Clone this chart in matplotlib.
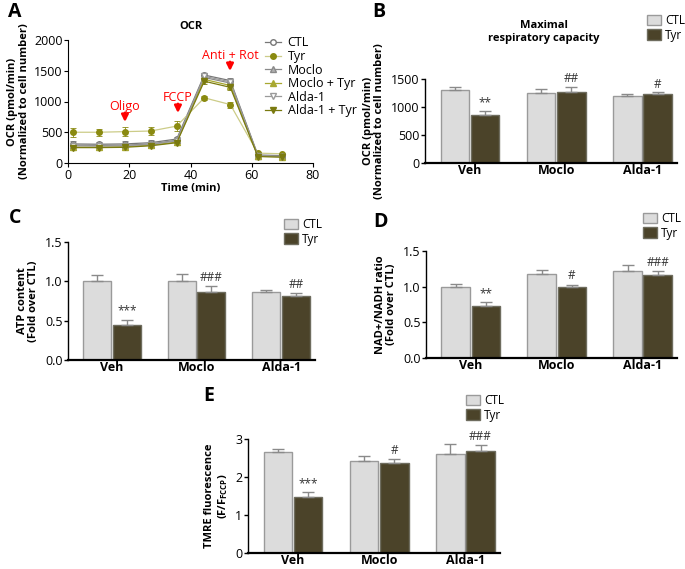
import matplotlib
matplotlib.use('Agg')
import matplotlib.pyplot as plt
import numpy as np
from matplotlib.patches import Patch
from matplotlib.lines import Line2D

plt.rcParams['font.family'] = ['Open Sans', 'DejaVu Sans']
plt.rcParams['mathtext.default'] = 'regular'

# ---- Panel A data (OCR time course) ----
time_min = [1.5, 10, 18.5, 27, 35.5, 44.5, 53, 62, 70]
ocr_ctl = [310, 305, 310, 330, 390, 1430, 1340, 130, 120]
ocr_tyr = [500, 500, 510, 520, 600, 1060, 950, 160, 150]
ocr_moclo = [290, 285, 290, 310, 370, 1390, 1300, 120, 110]
ocr_moclo_tyr = [260, 260, 265, 290, 340, 1360, 1260, 110, 100]
ocr_alda = [280, 275, 280, 300, 360, 1410, 1320, 115, 105]
ocr_alda_tyr = [250, 250, 255, 280, 330, 1330, 1230, 105, 95]
ocr_err_ctl = [40, 40, 40, 40, 40, 40, 40, 20, 20]
ocr_err_tyr = [70, 60, 70, 70, 80, 30, 50, 20, 20]

# ---- Bar panels ----
groups = ['Veh', 'Moclo', 'Alda-1']
maxresp_ctl = [1300, 1250, 1200]
maxresp_ctl_err = [65, 75, 35]
maxresp_tyr = [860, 1270, 1225]
maxresp_tyr_err = [75, 95, 35]
maxresp_sig = ['**', '##', '#']

atp_ctl = [1.01, 1.01, 0.86]
atp_ctl_err = [0.07, 0.08, 0.03]
atp_tyr = [0.45, 0.87, 0.81]
atp_tyr_err = [0.06, 0.07, 0.04]
atp_sig = ['***', '###', '##']

nad_ctl = [1.00, 1.18, 1.22]
nad_ctl_err = [0.04, 0.05, 0.09]
nad_tyr = [0.73, 1.00, 1.16]
nad_tyr_err = [0.05, 0.03, 0.06]
nad_sig = ['**', '#', '###']

tmre_ctl = [2.65, 2.42, 2.60]
tmre_ctl_err = [0.08, 0.12, 0.27]
tmre_tyr = [1.47, 2.37, 2.68]
tmre_tyr_err = [0.13, 0.10, 0.15]
tmre_sig = ['***', '#', '###']

CTL_COLOR = '#dcdcdc'
TYR_COLOR = '#4b4329'
OLIVE = '#8a8a10'

fig = plt.figure(figsize=(6.85, 5.69), dpi=100)
W, H = 685, 569


def axes_px(left, right, top, bottom):
    return fig.add_axes([left / W, 1 - bottom / H, (right - left) / W, (bottom - top) / H])


def bar_panel(ax, ctl, ctl_err, tyr, tyr_err, sig, ymax, step, ylabel, fmt):
    x = np.arange(len(groups))
    w = 0.33
    off = 0.175
    ax.bar(x - off, ctl, w, color=CTL_COLOR, edgecolor='#9a9a9a', linewidth=1)
    ax.bar(x + off, tyr, w, color=TYR_COLOR, edgecolor='#6e6c5e', linewidth=1)
    ax.errorbar(x - off, ctl, yerr=[np.zeros(3), ctl_err], fmt='none', ecolor='#8a8a8a',
                elinewidth=1, capsize=4, capthick=1)
    ax.errorbar(x + off, tyr, yerr=[np.zeros(3), tyr_err], fmt='none', ecolor='#8a8a8a',
                elinewidth=1, capsize=4, capthick=1)
    for i in range(3):
        ax.text(x[i] + off, tyr[i] + tyr_err[i] + ymax * 0.02, sig[i], ha='center',
                va='bottom', fontsize=8.5, color='#333333')
    ax.set_xlim(-0.52, 2.4)
    ax.set_ylim(0, ymax)
    ax.set_yticks(np.arange(0, ymax + step / 2, step))
    ax.yaxis.set_major_formatter(plt.FormatStrFormatter(fmt))
    ax.set_xticks(x)
    ax.set_xticklabels(groups, fontweight='bold', fontsize=9)
    ax.tick_params(axis='x', length=0, pad=1)
    ax.tick_params(axis='y', labelsize=9, length=3, width=1, pad=1)
    for s in ['top', 'right']:
        ax.spines[s].set_visible(False)
    ax.spines['bottom'].set_linewidth(1.6)
    ax.spines['left'].set_linewidth(1)
    ax.set_ylabel(ylabel, fontweight='bold', fontsize=8, linespacing=1.1, labelpad=4)


def bar_legend(x, y):
    handles = [Patch(facecolor=CTL_COLOR, edgecolor='#9a9a9a', label='CTL'),
               Patch(facecolor=TYR_COLOR, edgecolor='#6e6c5e', label='Tyr')]
    fig.legend(handles=handles, loc='upper left', bbox_to_anchor=(x / W, 1 - y / H),
               frameon=False, fontsize=8.5, handlelength=1.2, handleheight=1.0,
               handletextpad=0.35, labelspacing=0.15, borderpad=0, borderaxespad=0)


# ---- Panel A ----
axA = axes_px(68, 313, 40, 163)
series = [
    ('CTL', ocr_ctl, '#777777', 'o', 'white', ocr_err_ctl),
    ('Tyr', ocr_tyr, OLIVE, 'o', OLIVE, ocr_err_tyr),
    ('Moclo', ocr_moclo, '#8a8a8a', '^', '#b0b0b0', ocr_err_ctl),
    ('Moclo + Tyr', ocr_moclo_tyr, '#a8a830', '^', '#a8a830', ocr_err_ctl),
    ('Alda-1', ocr_alda, '#9a9a9a', 'v', 'white', ocr_err_ctl),
    ('Alda-1 + Tyr', ocr_alda_tyr, '#7a7a10', 'v', '#7a7a10', ocr_err_ctl),
]
handles = []
for name, vals, col, mk, mfc, err in series:
    line_col = '#cccc88' if name == 'Tyr' else col
    axA.errorbar(time_min, vals, yerr=err, color=line_col, ecolor=col, marker=mk,
                 markersize=4, markerfacecolor=mfc, markeredgecolor=col, linewidth=0.9,
                 elinewidth=0.6, capsize=2, capthick=0.6)
    handles.append(Line2D([], [], color=line_col, marker=mk, markersize=4,
                          markerfacecolor=mfc, markeredgecolor=col, linewidth=0.9,
                          label=name))
axA.set_xlim(0, 80)
axA.set_ylim(0, 2000)
axA.set_xticks([0, 20, 40, 60, 80])
axA.set_yticks([0, 500, 1000, 1500, 2000])
axA.tick_params(labelsize=9, length=3, pad=1)
for s in ['top', 'right']:
    axA.spines[s].set_visible(False)
axA.set_xlabel('Time (min)', fontweight='bold', fontsize=8, labelpad=1)
axA.set_ylabel('OCR (pmol/min)\n(Normalized to cell number)', fontweight='bold',
               fontsize=8, linespacing=1.1, labelpad=3)
axA.set_title('OCR', fontweight='bold', fontsize=8, pad=8)
for label, xv, yv in [('Oligo', 18.6, 667), ('FCCP', 35.9, 813), ('Anti + Rot', 52.9, 1496)]:
    axA.annotate('', xy=(xv, yv), xytext=(xv, yv + 150),
                 arrowprops=dict(arrowstyle='-|>', color='red', lw=1.8, mutation_scale=10,
                                 shrinkA=0, shrinkB=0))
    axA.text(xv, yv + 140, label, color='red', ha='center', va='bottom', fontsize=9)
axA.legend(handles=handles, loc='upper left', bbox_to_anchor=(197 / 245, 1.03),
           frameon=False, fontsize=9, handlelength=1.3, handletextpad=0.5,
           labelspacing=0.05, borderpad=0, borderaxespad=0)

# ---- Panel B ----
axB = axes_px(425, 677, 79, 163)
bar_panel(axB, maxresp_ctl, maxresp_ctl_err, maxresp_tyr, maxresp_tyr_err, maxresp_sig,
          1500, 500, 'OCR (pmol/min)\n(Normalized to cell number)', '%d')
axB.text(0.47, 1.42, 'Maximal\nrespiratory capacity', transform=axB.transAxes,
         ha='center', va='bottom', fontweight='bold', fontsize=8, linespacing=1.25)
bar_legend(647, 14)

# ---- Panel C ----
axC = axes_px(68, 315, 242, 360)
bar_panel(axC, atp_ctl, atp_ctl_err, atp_tyr, atp_tyr_err, atp_sig, 1.5, 0.5,
          'ATP content\n(Fold over CTL)', '%.1f')
bar_legend(284, 218)

# ---- Panel D ----
axD = axes_px(426, 677, 251, 358)
bar_panel(axD, nad_ctl, nad_ctl_err, nad_tyr, nad_tyr_err, nad_sig, 1.5, 0.5,
          'NAD+/NADH ratio\n(Fold over CTL)', '%.1f')
bar_legend(643, 212)

# ---- Panel E ----
axE = axes_px(248, 500, 439, 553)
bar_panel(axE, tmre_ctl, tmre_ctl_err, tmre_tyr, tmre_tyr_err, tmre_sig, 3, 1,
          'TMRE fluorescence\n(F/F$_{FCCP}$)', '%d')
bar_legend(466, 394)

# panel letters
for letter, px, py in [('A', 8, 12), ('B', 372, 12), ('C', 9, 218), ('D', 373, 222),
                       ('E', 203, 396)]:
    fig.text(px / W, 1 - py / H, letter, fontweight='bold', fontsize=14, va='center',
             ha='left')

fig.savefig('out.png', dpi=100)
